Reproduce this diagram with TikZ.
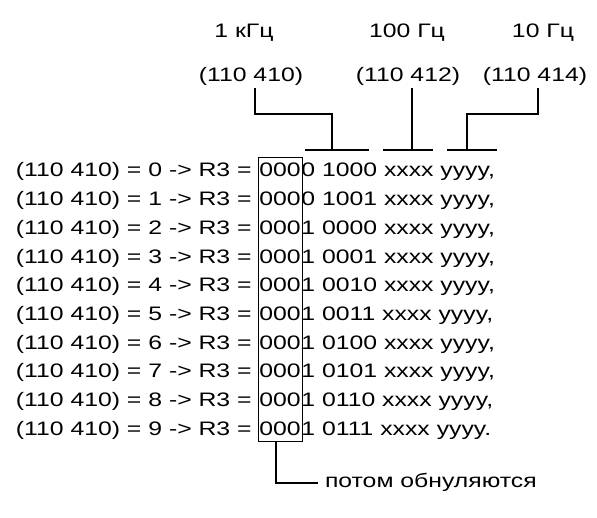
\documentclass[tikz,border=0pt]{standalone}
\usepackage{fontspec}
\setmainfont{Liberation Sans}[FakeStretch=1.27]
\usetikzlibrary{positioning,fit}

\begin{document}
\begin{tikzpicture}[
	font=\fontsize{11.1pt}{14pt}\selectfont
]
\tikzset{
    txt/.style = {inner sep=0},
    lbl/.style = {inner sep=0, outer sep=1pt, anchor=base},
    brk/.style = {-, line width=1.1pt},
    frame/.style = {draw, line width=0.55pt, inner xsep=0.02cm, inner ysep=0.12cm},
}
\useasboundingbox (0,0) rectangle (11.94,10.36);
% frequency labels
\node[lbl] at (4.88, 9.60) (f1) {1 кГц};
\node[lbl] at (8.14, 9.60) (f2) {100 Гц};
\node[lbl] at (10.86, 9.60) (f3) {10 Гц};
\node[lbl] at (5.02, 8.72) (a1) {(110 410)};
\node[lbl] at (8.16, 8.72) (a2) {(110 412)};
\node[lbl] at (10.70, 8.72) (a3) {(110 414)};
%
\foreach \k/\b in {0/0 1000, 1/0 1001, 2/1 0000, 3/1 0001, 4/1 0010,
                   5/1 0011, 6/1 0100, 7/1 0101, 8/1 0110, 9/1 0111}{
  \node[txt, anchor=base west] at (5.18, {6.82-0.574*\k}) (z\k) {000};
  \node[txt, base left=0.14cm of z\k] (l\k) {(110 410) = \k\ -> R3 =};
  \node[txt, base right=0cm of z\k] (r\k) {\b\ xxxx yyyy\ifnum\k<9,\else.\fi};
}
\node[frame, fit=(z0)(z9)] (box) {};
%
\coordinate (k1) at (5.10, 8.08);
\coordinate (t1) at (6.64, 7.36);
\coordinate (t2) at (8.24, 7.36);
\coordinate (k3) at (10.76, 8.08);
\coordinate (t3) at (9.34, 7.36);
\coordinate (k0) at (5.52, 0.70);
%
\draw[brk] (a1.south -| k1) -- (k1) -| (t1);
\draw[brk] (a2.south -| t2) -- (t2);
\draw[brk] (a3.south -| k3) -- (k3) -| (t3);
\draw[brk] (6.10, 7.36) -- (7.38, 7.36);
\draw[brk] (7.66, 7.36) -- (8.66, 7.36);
\draw[brk] (8.94, 7.36) -- (9.94, 7.36);
%
\node[txt, outer sep=0.14cm, anchor=mid west] at (6.36, 0.70) (note) {потом обнуляются};
\draw[brk] (box.south -| k0) -- (k0) -- (note.mid west);
\end{tikzpicture}
\end{document}
